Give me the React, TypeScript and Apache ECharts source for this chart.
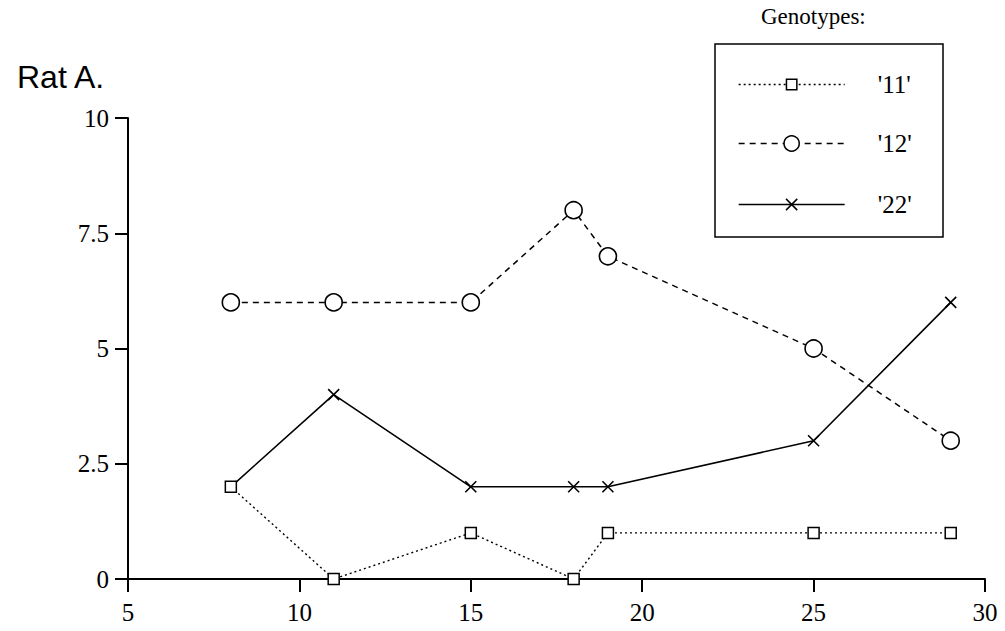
import React, { useEffect, useRef } from "react";
import * as echarts from "echarts";

const xValues = [8, 11, 15, 18, 19, 25, 29];
const series11 = [2, 0, 1, 0, 1, 1, 1];
const series12 = [6, 6, 6, 8, 7, 5, 3];
const series22 = [2, 4, 2, 2, 2, 3, 6];
const seriesNames = ["'11'", "'12'", "'22'"];
const xTicks = [5, 10, 15, 20, 25, 30];
const yTicks = [0, 2.5, 5, 7.5, 10];

const CROSS = "path://M0,0L10,10M10,0L0,10";
const SERIF = "'Liberation Serif', 'Times New Roman', serif";
const SANS = "'Liberation Sans', Arial, sans-serif";

function pairs(vals: number[]) {
  return xValues.map((x, i) => [x, vals[i]]);
}

export default function App() {
  const ref = useRef<HTMLDivElement>(null);
  useEffect(() => {
    if (!ref.current) return;
    const chart = echarts.init(ref.current, null, { renderer: "svg" });
    const legendText = { fontFamily: SERIF, fontSize: 25, color: "#000", lineHeight: 12, padding: [0, 0, 0, 28] };
    const mkLegend = (name: string, top: number, h: number, type: any) => ({
      data: [name],
      left: 738,
      top,
      orient: "vertical",
      padding: 0,
      itemWidth: 106,
      itemHeight: h,
      selectedMode: false,
      textStyle: legendText,
      lineStyle: { color: "#000", width: 1.3, type },
      itemStyle: { color: "#fff", borderColor: "#000", borderWidth: 1.5 },
    });
    chart.setOption({
      animation: false,
      backgroundColor: "#fff",
      grid: { left: 128, right: 20, top: 118, bottom: 52 },
      graphic: [
        {
          type: "text",
          left: 17,
          top: 61,
          style: { text: "Rat A.", fontFamily: SANS, fontSize: 32, fill: "#000" },
        },
        {
          type: "text",
          left: 761,
          top: 5,
          style: { text: "Genotypes:", fontFamily: SERIF, fontSize: 23, fill: "#000" },
        },
        {
          type: "rect",
          shape: { x: 715, y: 44, width: 228, height: 193 },
          style: { fill: "none", stroke: "#000", lineWidth: 1.5 },
        },
      ],
      legend: [
        mkLegend(seriesNames[0], 72, 13, [2, 3]),
        mkLegend(seriesNames[1], 131, 19, [6, 5]),
        mkLegend(seriesNames[2], 192, 14, "solid"),
      ],
      xAxis: {
        type: "value",
        min: 5,
        max: 30,
        interval: 5,
        splitLine: { show: false },
        axisLine: { onZero: false, lineStyle: { color: "#000", width: 2 } },
        axisTick: { length: 13, lineStyle: { color: "#000", width: 2 } },
        axisLabel: {
          margin: 21,
          color: "#000",
          fontFamily: SERIF,
          fontSize: 25,
          formatter: (v: number) => (xTicks.includes(v) ? String(v) : ""),
        },
      },
      yAxis: {
        type: "value",
        min: 0,
        max: 10,
        interval: 2.5,
        splitLine: { show: false },
        axisLine: { show: true, lineStyle: { color: "#000", width: 2 } },
        axisTick: { show: true, length: 13, lineStyle: { color: "#000", width: 2 } },
        axisLabel: {
          margin: 19,
          color: "#000",
          fontFamily: SERIF,
          fontSize: 25,
          formatter: (v: number) => (yTicks.includes(v) ? String(v) : ""),
        },
      },
      series: [
        {
          name: seriesNames[2],
          type: "line",
          z: 2,
          data: pairs(series22),
          symbol: CROSS,
          symbolSize: 11,
          lineStyle: { color: "#000", width: 1.6, type: "solid" },
          itemStyle: { color: "#000", borderColor: "#000", borderWidth: 1.6 },
        },
        {
          name: seriesNames[1],
          type: "line",
          z: 3,
          data: pairs(series12),
          symbol: "circle",
          symbolSize: 17,
          lineStyle: { color: "#000", width: 1.5, type: [6, 5] },
          itemStyle: { color: "#fff", borderColor: "#000", borderWidth: 1.6 },
        },
        {
          name: seriesNames[0],
          type: "line",
          z: 4,
          data: pairs(series11),
          symbol: "rect",
          symbolSize: 11,
          lineStyle: { color: "#000", width: 1.4, type: [2, 3] },
          itemStyle: { color: "#fff", borderColor: "#000", borderWidth: 1.5 },
        },
      ],
    });
    return () => chart.dispose();
  }, []);
  return <div ref={ref} style={{ width: 1005, height: 631, margin: -8 }} />;
}
